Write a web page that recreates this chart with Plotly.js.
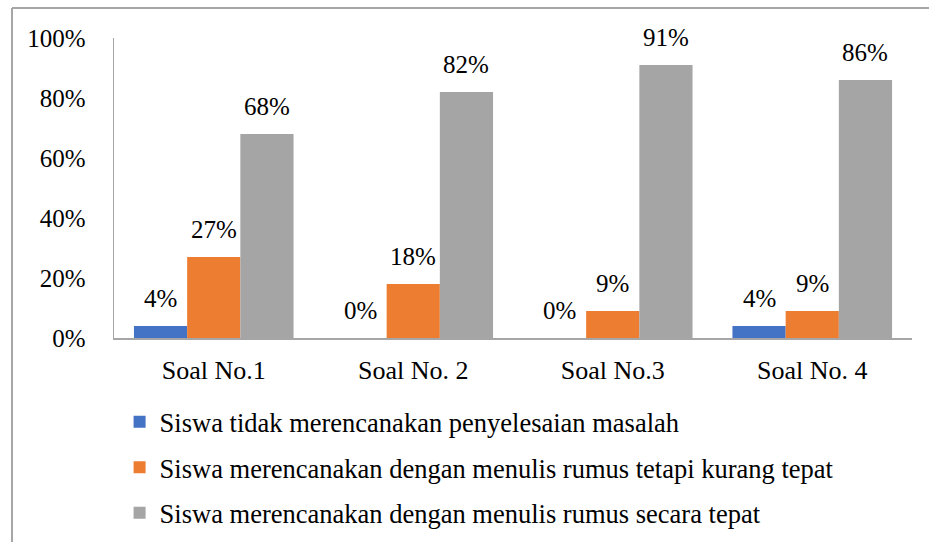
<!DOCTYPE html>
<html>
<head>
<meta charset="utf-8">
<script src="https://cdn.plot.ly/plotly-3.0.1.min.js"></script>
<style>html,body{margin:0;padding:0;background:#fff;}#chart{width:929px;height:542px;}</style>
</head>
<body>
<div id="chart"></div>
<script>
const categories = ["Soal No.1", "Soal No. 2", "Soal No.3", "Soal No. 4"];
const seriesNames = [
  "Siswa tidak merencanakan penyelesaian masalah",
  "Siswa merencanakan dengan menulis rumus tetapi kurang tepat",
  "Siswa merencanakan dengan menulis rumus secara tepat"
];
const tidakMerencanakan = [0.04, 0.00, 0.00, 0.04];
const kurangTepat = [0.27, 0.18, 0.09, 0.09];
const secaraTepat = [0.68, 0.82, 0.91, 0.86];
const yTickVals = [0, 0.2, 0.4, 0.6, 0.8, 1.0];
const yTickText = ["0%", "20%", "40%", "60%", "80%", "100%"];
const colors = ["#4472C4", "#ED7D31", "#A5A5A5"];

const FONT = "Liberation Serif, Times New Roman, serif";
const allSeries = [tidakMerencanakan, kurangTepat, secaraTepat];

const traces = allSeries.map((vals, i) => ({
  type: "bar",
  name: seriesNames[i],
  x: categories,
  y: vals,
  marker: {color: colors[i]},
  legendgroup: "g" + i,
  hoverinfo: "skip"
}));

const plotW = 929 - 114 - 17;
const barW = plotW / categories.length * 0.8 / 3;
const annotations = [];
allSeries.forEach((vals, i) => {
  vals.forEach((v, j) => {
    annotations.push({
      x: categories[j], y: v, xref: "x", yref: "y",
      text: Math.round(v * 100) + "%",
      showarrow: false, yanchor: "bottom",
      xshift: (i - 1) * barW, yshift: 12,
      font: {family: FONT, size: 25, color: "#000"}
    });
  });
});

const layout = {
  width: 929, height: 542,
  margin: {l: 114, r: 17, t: 38, b: 204, autoexpand: false},
  paper_bgcolor: "#fff", plot_bgcolor: "#fff",
  font: {family: FONT, size: 25, color: "#000"},
  barmode: "group", bargap: 0.2, bargroupgap: 0,
  showlegend: true,
  legend: {
    orientation: "v", x: 0.007, xanchor: "left", y: -0.2, yanchor: "top",
    font: {family: FONT, size: 26.5, color: "#000"},
    traceorder: "grouped", tracegroupgap: 8,
    bgcolor: "rgba(0,0,0,0)"
  },
  xaxis: {
    type: "category", showgrid: false, zeroline: false,
    showline: true, linecolor: "#a6a6a6", linewidth: 2,
    ticks: "", ticklabelstandoff: 8,
    tickfont: {family: FONT, size: 26, color: "#000"}
  },
  yaxis: {
    range: [0, 1.0], tickvals: yTickVals, ticktext: yTickText,
    showgrid: false, zeroline: false,
    showline: true, linecolor: "#a6a6a6", linewidth: 1.5,
    ticks: "", ticklabelstandoff: 22,
    tickfont: {family: FONT, size: 25, color: "#000"}
  },
  annotations: annotations,
  shapes: [
    {type: "line", xref: "paper", yref: "paper", x0: (12 - 114) / plotW, x1: (12 - 114) / plotW, y0: 1.1, y1: -0.7, line: {color: "#a6a6a6", width: 2}},
    {type: "line", xref: "paper", yref: "paper", x0: (12 - 114) / plotW, x1: 1.1, y0: 1.1, y1: 1.1, line: {color: "#a6a6a6", width: 2}}
  ]
};

Plotly.newPlot("chart", traces, layout, {displayModeBar: false, staticPlot: true});
</script>
</body>
</html>
